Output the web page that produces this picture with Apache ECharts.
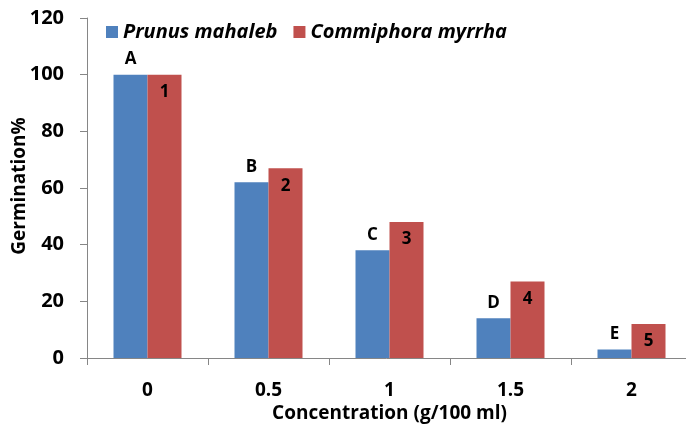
<!DOCTYPE html>
<html><head><meta charset="utf-8">
<script src="https://cdn.jsdelivr.net/npm/echarts@6/dist/echarts.min.js"></script>
<style>html,body{margin:0;padding:0;background:#fff}#c{width:686px;height:426px}</style>
</head><body><div id="c"></div>
<script>
const categories = ['0', '0.5', '1', '1.5', '2'];
const prunus = [100, 62, 38, 14, 3];
const commiphora = [100, 67, 48, 27, 12];
const prunusLabels = ['A', 'B', 'C', 'D', 'E'];
const commiphoraLabels = ['1', '2', '3', '4', '5'];
const yTicks = { min: 0, max: 120, interval: 20 };

const FONT = 'Open Sans';
const chart = echarts.init(document.getElementById('c'), null, { renderer: 'canvas' });
chart.setOption({
  animation: false,
  textStyle: { fontFamily: FONT },
  grid: { left: 87, right: -6, top: 18, bottom: 68, containLabel: false, outerBoundsMode: 'none' },
  legend: {
    left: 101, top: 17, itemWidth: 12, itemHeight: 12, itemGap: 16,
    icon: 'rect',
    textStyle: { fontFamily: FONT, fontSize: 20, fontWeight: 'bold', fontStyle: 'italic', color: '#000', padding: [0, 0, 0, 0] },
    data: ['Prunus mahaleb', 'Commiphora myrrha']
  },
  xAxis: {
    type: 'category', data: categories,
    name: 'Concentration (g/100 ml)', nameLocation: 'middle', nameGap: 46, nameMoveOverlap: false,
    nameTextStyle: { fontFamily: FONT, fontSize: 19, fontWeight: 'bold', color: '#000', padding: [0, 0, 0, 0] },
    axisLine: { lineStyle: { color: '#868686', width: 1 } },
    axisTick: { show: true, length: 7, alignWithLabel: false, lineStyle: { color: '#868686' } },
    axisLabel: { fontFamily: FONT, fontSize: 19, fontWeight: 'bold', color: '#000', margin: 23 }
  },
  yAxis: {
    type: 'value', min: yTicks.min, max: yTicks.max, interval: yTicks.interval,
    name: 'Germination%', nameLocation: 'middle', nameGap: 58, nameRotate: 90, nameMoveOverlap: false,
    nameTextStyle: { fontFamily: FONT, fontSize: 19, fontWeight: 'bold', color: '#000', padding: [0, 0, 0, 4] },
    axisLine: { show: true, lineStyle: { color: '#868686', width: 1 } },
    axisTick: { show: true, length: 7, lineStyle: { color: '#868686' } },
    splitLine: { show: false },
    axisLabel: { fontFamily: FONT, fontSize: 20, fontWeight: 'bold', color: '#000', margin: 23 }
  },
  series: [
    {
      name: 'Prunus mahaleb', type: 'bar', data: prunus, barWidth: 34, barGap: '0%',
      itemStyle: { color: '#4F81BD' },
      label: {
        show: true, position: 'top', distance: 7,
        formatter: p => prunusLabels[p.dataIndex],
        fontFamily: FONT, fontSize: 17, fontWeight: 'bold', color: '#000'
      }
    },
    {
      name: 'Commiphora myrrha', type: 'bar', data: commiphora, barWidth: 34,
      itemStyle: { color: '#C0504D' },
      label: {
        show: true, position: 'insideTop', distance: 9,
        formatter: p => commiphoraLabels[p.dataIndex],
        fontFamily: FONT, fontSize: 17, fontWeight: 'bold', color: '#000'
      }
    }
  ]
});
</script></body></html>
